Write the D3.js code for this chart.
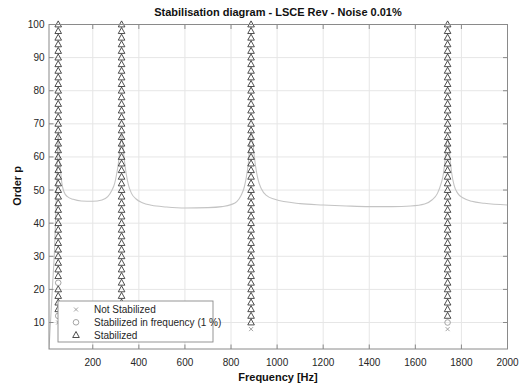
<!DOCTYPE html>
<html><head><meta charset="utf-8">
<script src="https://cdn.jsdelivr.net/npm/d3@7"></script>
<style>body{margin:0;background:#fff;}svg{display:block;font-family:"Liberation Sans",Arial,sans-serif;}</style>
</head><body>
<svg id="c" width="531" height="388"></svg>
<script>
// ---- data ----
const xTicks = [200,400,600,800,1000,1200,1400,1600,1800,2000];
const yTicks = [10,20,30,40,50,60,70,80,90,100];
const modeFreqs = [50, 325, 887, 1740];
const orders = [8,10,12,14,16,18,20,22,24,26,28,30,32,34,36,38,40,42,44,46,48,50,52,54,56,58,60,62,64,66,68,70,72,74,76,78,80,82,84,86,88,90,92,94,96,98,100];
// lowest order at which each mode appears
const firstOrder = [10, 10, 8, 8];
// not stabilized poles [freq, order]
const notStabilized = [[50,10],[887,8],[1740,8]];
// poles stabilized in frequency only [freq, order]
const freqStabilized = [[50,12],[50,22],[1740,10]];
// frequency response curve (scaled onto order axis) [freq, value]
const curveF = [10,18,26,34,40,45,50,55,60,66,75,90,115,150,200,240,265,282,295,304,311,316,325,334,339,346,355,368,388,415,455,520,600,700,760,800,825,843,858,868,875,887,899,906,916,931,955,990,1100,1200,1300,1400,1500,1580,1640,1672,1696,1712,1722,1728,1740,1752,1758,1768,1784,1808,1845,1900,2000];
const curveV = [2,12,22,32,44,56,68,60,56,52,49.5,48,47.2,46.7,46.6,47,48,49.8,52,55,58,61,67,61,58,54.5,51.5,49,47.3,46.2,45.4,44.9,44.6,44.7,45,45.6,46.5,48.3,51,54.5,58,68,61.5,57.5,53.5,50.5,48.3,47.2,45.9,45.5,45.2,45,45,45.2,45.8,47,49,52,55,58.5,66,58.5,55,51.5,49,47.6,46.6,46,45.5];

// ---- layout ----
const svg = d3.select("#c");
const L = 49, R = 507.5, T = 24.5, B = 349;
const x = d3.scaleLinear().domain([10,2000]).range([L,R]);
const y = d3.scaleLinear().domain([2,100]).range([B,T]);
const txt = "#262626";

// grid
const g = svg.append("g");
g.selectAll("line.gx").data(xTicks).join("line")
  .attr("x1",d=>x(d)).attr("x2",d=>x(d)).attr("y1",T).attr("y2",B)
  .attr("stroke","#e6e6e6").attr("stroke-width",1);
g.selectAll("line.gy").data(yTicks).join("line")
  .attr("x1",L).attr("x2",R).attr("y1",d=>y(d)).attr("y2",d=>y(d))
  .attr("stroke","#e6e6e6").attr("stroke-width",1);

// clip
svg.append("clipPath").attr("id","clip").append("rect")
  .attr("x",L).attr("y",T).attr("width",R-L).attr("height",B-T);

// curve
const pts = curveF.map((f,i)=>[f,curveV[i]]);
svg.append("path").attr("clip-path","url(#clip)")
  .datum(pts)
  .attr("d", d3.line().x(d=>x(d[0])).y(d=>y(d[1])).curve(d3.curveMonotoneX))
  .attr("fill","none").attr("stroke","#c4c4c4").attr("stroke-width",1.1);

// stabilized points
const stabilized = [];
modeFreqs.forEach((f,i)=>{
  orders.forEach(p=>{
    if (p < firstOrder[i]) return;
    const isNS = notStabilized.some(d=>d[0]===f && d[1]===p);
    const isFS = freqStabilized.some(d=>d[0]===f && d[1]===p);
    if (!isNS && !isFS) stabilized.push([f,p]);
  });
});

const triPath = "M0,-3.6L3.3,2.4L-3.3,2.4Z";
const crossPath = "M-2,-2L2,2M-2,2L2,-2";

const marks = svg.append("g");
marks.selectAll("path.tri").data(stabilized).join("path")
  .attr("transform",d=>`translate(${x(d[0])},${y(d[1])})`)
  .attr("d",triPath).attr("fill","none").attr("stroke","#3a3a3a").attr("stroke-width",0.9);
marks.selectAll("circle.fs").data(freqStabilized).join("circle")
  .attr("cx",d=>x(d[0])).attr("cy",d=>y(d[1])).attr("r",2.8)
  .attr("fill","none").attr("stroke","#9a9a9a").attr("stroke-width",0.9);
marks.selectAll("path.ns").data(notStabilized).join("path")
  .attr("transform",d=>`translate(${x(d[0])},${y(d[1])})`)
  .attr("d",crossPath).attr("fill","none").attr("stroke","#9a9a9a").attr("stroke-width",0.9);

// axes box
svg.append("rect").attr("x",L).attr("y",T).attr("width",R-L).attr("height",B-T)
  .attr("fill","none").attr("stroke","#8a8a8a").attr("stroke-width",1);

// ticks (inward, all four sides)
const tk = svg.append("g").attr("stroke","#8a8a8a").attr("stroke-width",1);
xTicks.forEach(t=>{
  tk.append("line").attr("x1",x(t)).attr("x2",x(t)).attr("y1",B).attr("y2",B-4.5);
  tk.append("line").attr("x1",x(t)).attr("x2",x(t)).attr("y1",T).attr("y2",T+4.5);
});
yTicks.forEach(t=>{
  tk.append("line").attr("x1",L).attr("x2",L+4.5).attr("y1",y(t)).attr("y2",y(t));
  tk.append("line").attr("x1",R).attr("x2",R-4.5).attr("y1",y(t)).attr("y2",y(t));
});

// tick labels
svg.selectAll("text.xt").data(xTicks).join("text")
  .attr("x",d=>x(d)).attr("y",365.5).attr("text-anchor","middle")
  .attr("font-size",10).attr("fill",txt).text(d=>d);
svg.selectAll("text.yt").data(yTicks).join("text")
  .attr("x",44.5).attr("y",d=>y(d)+3.5).attr("text-anchor","end")
  .attr("font-size",10).attr("fill",txt).text(d=>d);

// labels
svg.append("text").attr("x",278).attr("y",15.5).attr("text-anchor","middle")
  .attr("font-size",11).attr("font-weight","bold").attr("fill","#111")
  .text("Stabilisation diagram - LSCE Rev - Noise 0.01%");
svg.append("text").attr("x",278).attr("y",381).attr("text-anchor","middle")
  .attr("font-size",11).attr("font-weight","bold").attr("fill","#111")
  .text("Frequency [Hz]");
svg.append("text").attr("transform","translate(21,186) rotate(-90)").attr("text-anchor","middle")
  .attr("font-size",11).attr("font-weight","bold").attr("fill","#111")
  .text("Order p");

// legend
const lg = svg.append("g");
lg.append("rect").attr("x",58).attr("y",301).attr("width",155).attr("height",41)
  .attr("fill","#fff").attr("stroke","#8a8a8a").attr("stroke-width",0.9);
const legendItems = ["Not Stabilized","Stabilized in frequency (1 %)","Stabilized"];
legendItems.forEach((name,i)=>{
  const cy = 309.5 + i*12.8;
  if (i===0) lg.append("path").attr("transform",`translate(76,${cy})`).attr("d",crossPath)
    .attr("fill","none").attr("stroke","#9a9a9a").attr("stroke-width",0.9);
  if (i===1) lg.append("circle").attr("cx",76).attr("cy",cy).attr("r",2.8)
    .attr("fill","none").attr("stroke","#9a9a9a").attr("stroke-width",0.9);
  if (i===2) lg.append("path").attr("transform",`translate(76,${cy})`).attr("d",triPath)
    .attr("fill","none").attr("stroke","#3a3a3a").attr("stroke-width",0.9);
  lg.append("text").attr("x",94).attr("y",cy+3.5).attr("font-size",10).attr("fill",txt).text(name);
});
</script>
</body></html>
